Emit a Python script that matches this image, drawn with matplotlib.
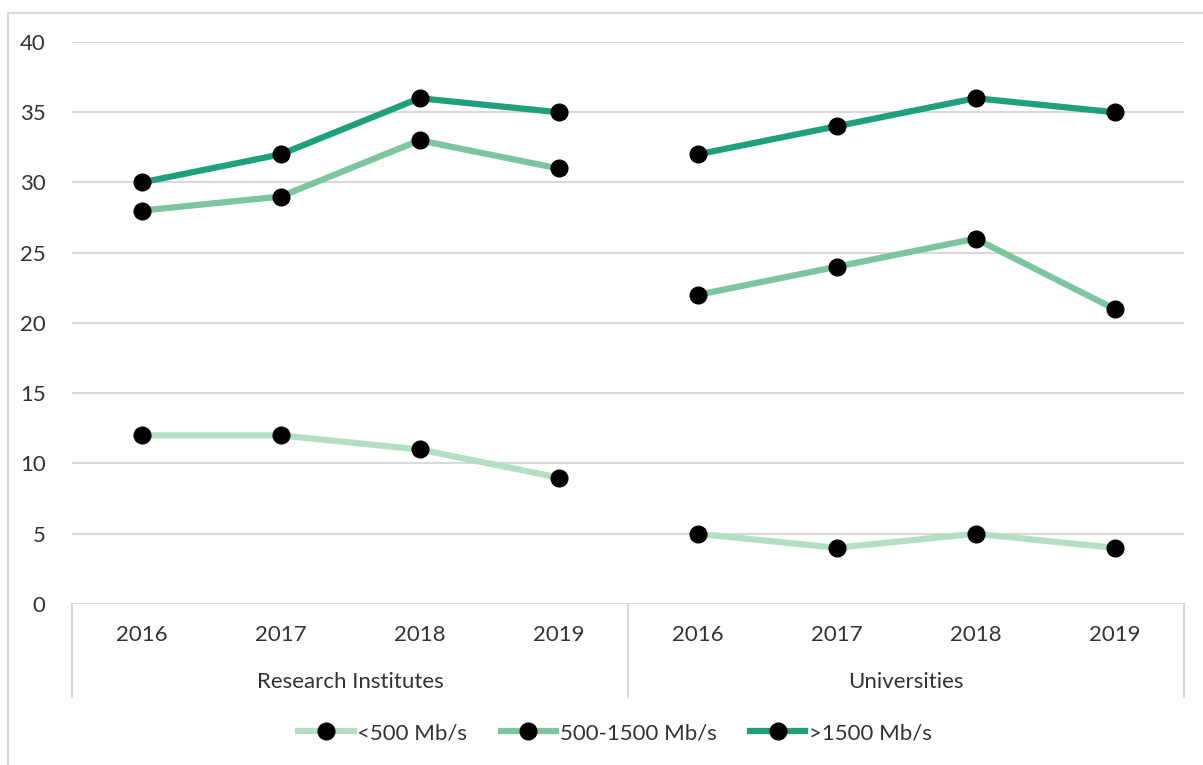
import matplotlib
matplotlib.use("Agg")
import matplotlib.pyplot as plt
import numpy as np
from matplotlib.patches import Rectangle
from matplotlib.lines import Line2D

plt.rcParams['font.family'] = ['Lato', 'DejaVu Sans']

groups = ["Research Institutes", "Universities"]
years = ["2016", "2017", "2018", "2019"]
series_names = ["<500 Mb/s", "500-1500 Mb/s", ">1500 Mb/s"]
colors = ["#b4dfc2", "#7cc59e", "#1fa07c"]
research = {
    "<500 Mb/s": [12, 12, 11, 9],
    "500-1500 Mb/s": [28, 29, 33, 31],
    ">1500 Mb/s": [30, 32, 36, 35],
}
universities = {
    "<500 Mb/s": [5, 4, 5, 4],
    "500-1500 Mb/s": [22, 24, 26, 21],
    ">1500 Mb/s": [32, 34, 36, 35],
}
yticks = [0, 5, 10, 15, 20, 25, 30, 35, 40]

FS = 16
TXT = "#333333"
W, H = 1203, 765
fig = plt.figure(figsize=(W / 100, H / 100), dpi=100)
fig.patches.append(Rectangle((8 / W, -0.1), 1.2, 1 - 13 / H + 0.1, transform=fig.transFigure,
                             fill=False, edgecolor="#d9d9d9", linewidth=1.5))

x0, x1 = 72, 1184
y_top, y_bot = 42, 604
ax = fig.add_axes([x0 / W, 1 - y_bot / H, (x1 - x0) / W, (y_bot - y_top) / H])
ax.set_xlim(-0.5, 7.5)
ax.set_ylim(0, 40)
for s in ax.spines.values():
    s.set_visible(False)
ax.set_yticks(yticks)
ax.yaxis.grid(True, color="#d9d9d9", linewidth=1.5)
ax.set_axisbelow(True)
ax.tick_params(axis='y', length=0, pad=19, labelsize=FS, labelcolor=TXT)
ax.tick_params(axis='x', length=0)
ax.set_xticks([])

gridx = np.arange(8)
for name, c in zip(series_names, colors):
    for gi, data in enumerate([research, universities]):
        xs = gridx[gi * 4:(gi + 1) * 4]
        ax.plot(xs, data[name], color=c, linewidth=4.5, marker='o', markersize=12,
                markerfacecolor='black', markeredgecolor='black', solid_capstyle='butt', zorder=3)

# category axis labels
ytr = ax.get_xaxis_transform()
sep_bottom = -(697 - 604) / (y_bot - y_top)
for xx in [-0.5, 3.5, 7.5]:
    ax.plot([xx, xx], [0, sep_bottom], transform=ytr, color="#d9d9d9", linewidth=1.5, clip_on=False)
for i in range(8):
    ax.text(i, -(635 - 604) / (y_bot - y_top), years[i % 4], transform=ytr, ha='center', va='center',
            fontsize=FS, color=TXT)
for gi, g in enumerate(groups):
    ax.text(gi * 4 + 1.5, -(682 - 604) / (y_bot - y_top), g, transform=ytr, ha='center', va='center',
            fontsize=FS, color=TXT)

handles = [Line2D([0], [0], color=c, linewidth=4.5, marker='o', markersize=12,
                  markerfacecolor='black', markeredgecolor='black') for c in colors]
fig.legend(handles, series_names, loc='center', bbox_to_anchor=(615 / W, 1 - 733 / H), ncol=3,
           frameon=False, fontsize=FS, handlelength=2.5, columnspacing=1.5, handletextpad=0.15,
           labelcolor=TXT)

fig.savefig("out.png", dpi=100)
